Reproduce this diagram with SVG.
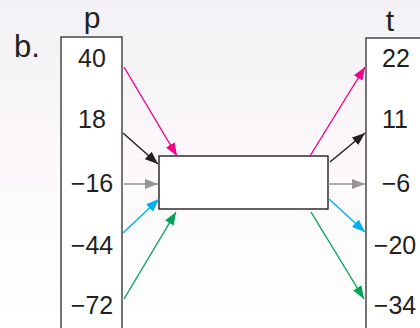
<svg xmlns="http://www.w3.org/2000/svg" width="420" height="328" viewBox="0 0 420 328">
<defs>
<linearGradient id="bg" x1="0" y1="0" x2="0" y2="1">
<stop offset="0" stop-color="#f3f1f5"/>
<stop offset="0.5" stop-color="#fcf8fb"/>
<stop offset="1" stop-color="#ffffff"/>
</linearGradient>
<marker id="mM" markerUnits="userSpaceOnUse" markerWidth="14" markerHeight="10" refX="13" refY="5" orient="auto"><path d="M0,0 L13,5 L0,10 Z" fill="#ec008c"/></marker>
<marker id="mK" markerUnits="userSpaceOnUse" markerWidth="14" markerHeight="10" refX="13" refY="5" orient="auto"><path d="M0,0 L13,5 L0,10 Z" fill="#231f20"/></marker>
<marker id="mG" markerUnits="userSpaceOnUse" markerWidth="14" markerHeight="10" refX="13" refY="5" orient="auto"><path d="M0,0 L13,5 L0,10 Z" fill="#939598"/></marker>
<marker id="mC" markerUnits="userSpaceOnUse" markerWidth="14" markerHeight="10" refX="13" refY="5" orient="auto"><path d="M0,0 L13,5 L0,10 Z" fill="#00aeef"/></marker>
<marker id="mN" markerUnits="userSpaceOnUse" markerWidth="14" markerHeight="10" refX="13" refY="5" orient="auto"><path d="M0,0 L13,5 L0,10 Z" fill="#00a651"/></marker>
</defs>
<style>
text{font-family:"Liberation Sans",Arial,sans-serif;fill:#231f20}
.num{font-size:25px;text-anchor:middle}
.head{font-size:30px;text-anchor:middle}
.col{fill:#ffffff;stroke:#3a3a3c;stroke-width:1.4}
.box{fill:#ffffff;stroke:#231f20;stroke-width:1.4}
.a{stroke-width:1.4;fill:none}
.m{stroke:#ec008c;marker-end:url(#mM)}
.k{stroke:#231f20;marker-end:url(#mK)}
.g{stroke:#939598;marker-end:url(#mG)}
.c{stroke:#00aeef;marker-end:url(#mC)}
.n{stroke:#00a651;marker-end:url(#mN)}
</style>
<rect width="420" height="328" fill="url(#bg)"/>
<text x="14" y="57" style="font-size:31px">b.</text>
<g id="p">
<rect class="col" x="61" y="37" width="61" height="300"/>
<text class="head" x="92" y="28">p</text>
<text class="num" x="92" y="67">40</text>
<text class="num" x="92" y="128">18</text>
<text class="num" x="92" y="192">−16</text>
<text class="num" x="92" y="254">−44</text>
<text class="num" x="92" y="314">−72</text>
</g>
<g id="t">
<rect class="col" x="366" y="38" width="70" height="300"/>
<text class="head" x="390" y="31">t</text>
<text class="num" x="396" y="67">22</text>
<text class="num" x="395" y="128">11</text>
<text class="num" x="396" y="192">−6</text>
<text class="num" x="395" y="254">−20</text>
<text class="num" x="395" y="314">−34</text>
</g>
<g id="f">
<rect class="box" x="159" y="156" width="169" height="53"/>
</g>
<g id="connectors">
<line class="a m" x1="124" y1="67" x2="177" y2="156"/>
<line class="a k" x1="123" y1="133" x2="158" y2="164"/>
<line class="a g" x1="124" y1="184" x2="158" y2="184"/>
<line class="a c" x1="123" y1="233" x2="159" y2="199"/>
<line class="a n" x1="124" y1="299" x2="176" y2="212"/>
<line class="a m" x1="310" y1="156" x2="365" y2="67"/>
<line class="a k" x1="330" y1="162" x2="365" y2="133"/>
<line class="a g" x1="328" y1="184" x2="365" y2="184"/>
<line class="a c" x1="329" y1="199" x2="365" y2="232"/>
<line class="a n" x1="311" y1="212" x2="364" y2="299"/>
</g>
</svg>
